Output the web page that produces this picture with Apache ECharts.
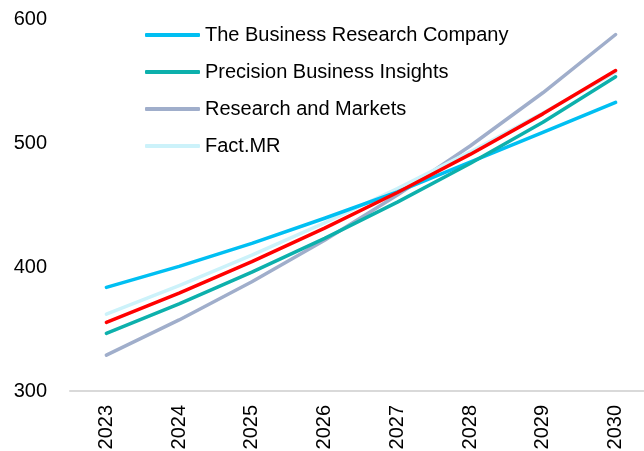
<!DOCTYPE html>
<html>
<head>
<meta charset="utf-8">
<script src="https://cdn.jsdelivr.net/npm/echarts@6/dist/echarts.min.js"></script>
<style>
  html, body { margin: 0; padding: 0; background: #fff; }
  #chart { width: 644px; height: 451px; }
</style>
</head>
<body>
<div id="chart"></div>
<script>
// Market size forecasts by source, 2023–2030
const years = ['2023', '2024', '2025', '2026', '2027', '2028', '2029', '2030'];

const businessResearchCompany = [383.6, 400.5, 419.0, 439.3, 460.5, 484.5, 508.5, 532.8];
const precisionBusinessInsights = [346.4, 370.3, 395.8, 423.1, 452.3, 483.5, 516.8, 553.4];
const researchAndMarkets = [328.9, 357.3, 388.1, 421.6, 458.0, 497.6, 540.5, 587.5];
const factMR = [362.0, 385.0, 409.5, 435.6, 463.3, 492.8, 524.1, 557.0];
const averageForecast = [355.3, 379.0, 404.3, 431.3, 460.1, 490.8, 523.5, 558.4];

const yTicks = { min: 300, max: 600, interval: 100 };

const FONT = '"Liberation Sans Narrow", "Arial Narrow", "Liberation Sans", Arial, sans-serif';

const chart = echarts.init(document.getElementById('chart'), null, { renderer: 'canvas' });

function lineSeries(name, data, color, z) {
  return {
    name: name,
    type: 'line',
    data: data,
    symbol: 'none',
    z: z,
    lineStyle: { color: color, width: 3.5, cap: 'round', join: 'round' },
    itemStyle: { color: color }
  };
}

chart.setOption({
  animation: false,
  backgroundColor: '#ffffff',
  grid: { left: 70, right: -8, top: 19, bottom: 60, containLabel: false, outerBoundsMode: 'none' },
  legend: {
    orient: 'vertical',
    left: 145,
    top: 25,
    padding: 0,
    itemGap: 17,
    itemWidth: 55,
    itemHeight: 4,
    icon: 'roundRect',
    data: ['The Business Research Company', 'Precision Business Insights', 'Research and Markets', 'Fact.MR'],
    textStyle: { fontFamily: FONT, fontSize: 20, color: '#000', padding: [0, 0, 0, 0] }
  },
  xAxis: {
    type: 'category',
    data: years,
    boundaryGap: true,
    axisLine: { lineStyle: { color: '#d9d9d9', width: 2 } },
    axisTick: { show: false },
    axisLabel: { rotate: 90, fontFamily: FONT, fontSize: 20, color: '#000', margin: 14 }
  },
  yAxis: {
    type: 'value',
    min: yTicks.min,
    max: yTicks.max,
    interval: yTicks.interval,
    axisLine: { show: false },
    axisTick: { show: false },
    splitLine: { show: false },
    axisLabel: { fontFamily: FONT, fontSize: 20, color: '#000', margin: 23 }
  },
  series: [
    lineSeries('The Business Research Company', businessResearchCompany, '#00bff2', 3),
    lineSeries('Precision Business Insights', precisionBusinessInsights, '#0db0ac', 3),
    lineSeries('Research and Markets', researchAndMarkets, '#a0aecb', 2),
    lineSeries('Fact.MR', factMR, '#ccf2fa', 2),
    lineSeries('Average', averageForecast, '#ff0000', 5)
  ]
});
</script>
</body>
</html>
